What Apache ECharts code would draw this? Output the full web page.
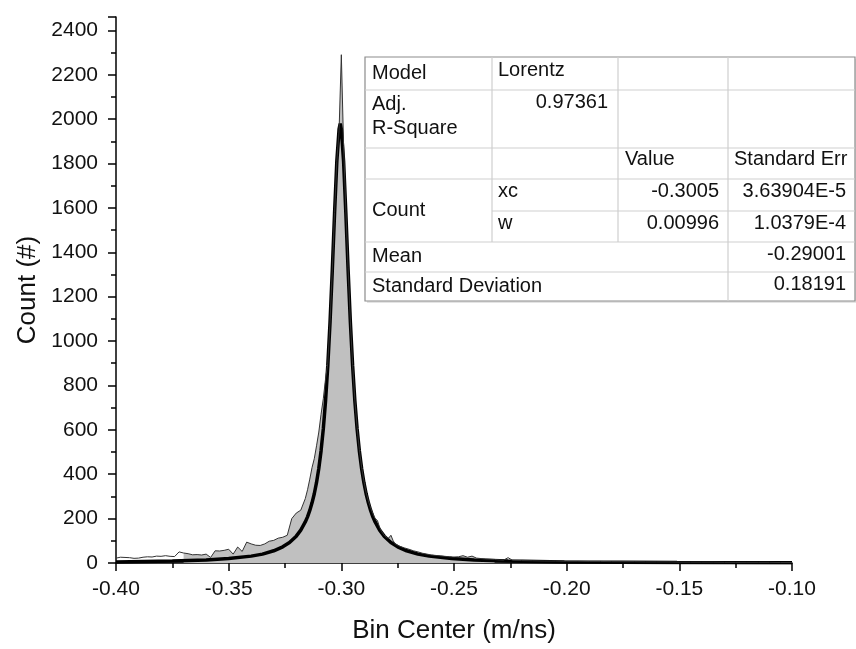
<!DOCTYPE html>
<html>
<head>
<meta charset="utf-8">
<script src="https://cdn.jsdelivr.net/npm/echarts@6/dist/echarts.min.js"></script>
<style>html,body{margin:0;padding:0;background:#fff}#c{width:856px;height:649px}</style>
</head>
<body>
<div id="c"></div>
<script>
// ---- histogram data (bin centre, count) ----
const binCenter = [
  -0.400,-0.398,-0.396,-0.394,-0.392,-0.390,-0.388,-0.386,-0.384,-0.382,
  -0.380,-0.378,-0.376,-0.374,-0.372,-0.370,-0.368,-0.366,-0.364,-0.362,
  -0.360,-0.358,-0.356,-0.354,-0.352,-0.350,-0.348,-0.346,-0.344,-0.342,
  -0.340,-0.338,-0.336,-0.334,-0.332,-0.330,-0.328,-0.326,-0.324,-0.322,
  -0.320,-0.318,-0.316,-0.315,-0.314,-0.313,-0.312,-0.311,-0.310,-0.309,
  -0.308,-0.307,-0.306,-0.305,-0.304,-0.303,-0.302,-0.301,-0.300,-0.299,
  -0.298,-0.297,-0.296,-0.295,-0.294,-0.293,-0.292,-0.291,-0.290,-0.289,
  -0.288,-0.287,-0.286,-0.285,-0.284,-0.283,-0.282,-0.281,-0.280,-0.279,
  -0.278,-0.277,-0.276,-0.274,-0.272,-0.270,-0.268,-0.266,-0.264,-0.262,
  -0.260,-0.258,-0.256,-0.254,-0.252,-0.250,-0.248,-0.246,-0.244,-0.242,
  -0.240,-0.238,-0.236,-0.234,-0.232,-0.230,-0.228,-0.226,-0.224,-0.220,
  -0.215,-0.210,-0.205,-0.200,-0.195,-0.190,-0.185,-0.180,-0.175,-0.170,
  -0.165,-0.160,-0.155,-0.150,-0.145,-0.140,-0.135,-0.130,-0.125,-0.120,
  -0.115,-0.110,-0.105,-0.100
];
const counts = [
  22,26,25,24,21,22,26,28,27,31,
  30,33,30,29,50,45,42,37,38,36,
  40,25,55,54,57,62,40,72,52,94,
  86,80,79,86,98,102,112,116,125,200,
  225,238,290,330,378,430,470,528,590,670,
  740,830,900,1090,1320,1580,1810,1950,2290,1880,
  1590,1330,1090,895,735,610,510,432,370,318,
  280,248,222,200,192,160,140,125,115,112,
  125,100,85,75,68,62,55,50,44,40,
  36,34,32,30,28,27,28,33,26,31,
  22,20,18,17,16,14,13,24,12,11,
  10,9,9,8,8,7,7,6,6,6,
  5,5,5,4,4,4,4,3,3,3,
  3,3,2,2
];
// ---- Lorentz fit curve values ----
const fitX = [
  -0.400,-0.375,-0.360,-0.350,-0.340,-0.335,-0.330,-0.326,-0.323,-0.320,
  -0.318,-0.316,-0.315,-0.314,-0.313,-0.312,-0.311,-0.310,-0.309,-0.308,
  -0.307,-0.306,-0.305,-0.304,-0.303,-0.302,-0.301,-0.3005,-0.300,-0.299,
  -0.298,-0.297,-0.296,-0.295,-0.294,-0.293,-0.292,-0.291,-0.290,-0.289,
  -0.288,-0.287,-0.286,-0.285,-0.283,-0.281,-0.278,-0.275,-0.271,-0.266,
  -0.261,-0.251,-0.241,-0.226,-0.201,-0.151,-0.100
];
const fitY = [
  4.9,8.8,13.8,19.8,31,40,55,73,92,121,
  148,185,208,237,271,312,363,426,505,604,
  730,890,1087,1322,1577,1810,1955,1980,1955,1810,
  1577,1322,1087,890,730,604,505,426,363,312,
  271,237,208,185,148,121,92,73,55,40,
  31,19.8,13.8,8.8,4.9,2.2,1.2
];
// shaded region of the histogram
const shadeRange = [-0.370, -0.232];

// ---- axis ticks ----
const xTicks = [-0.40,-0.35,-0.30,-0.25,-0.20,-0.15,-0.10];
const yTicks = [0,200,400,600,800,1000,1200,1400,1600,1800,2000,2200,2400];

// ---- fit result table text ----
const tblModel = ['Model', 'Lorentz'];
const tblAdjR = ['Adj.', 'R-Square', '0.97361'];
const tblHeader = ['Value', 'Standard Err'];
const tblGroup = 'Count';
const paramNames = ['xc', 'w'];
const paramValues = ['-0.3005', '0.00996'];
const paramErrors = ['3.63904E-5', '1.0379E-4'];
const statNames = ['Mean', 'Standard Deviation'];
const statValues = ['-0.29001', '0.18191'];

const FONT = '"Liberation Sans", Arial, sans-serif';
const histData = binCenter.map((x, i) => [x, counts[i]]);
const shadeData = histData.filter(d => d[0] >= shadeRange[0] - 1e-9 && d[0] <= shadeRange[1] + 1e-9);
const fitData = fitX.map((x, i) => [x, fitY[i]]);

// ---- table layout ----
const cx = [365, 492, 618, 728, 855];
const ry = [57, 90, 148, 179, 211, 242, 272, 301];
const g = [];
g.push({type:'rect', shape:{x:cx[0]+2, y:ry[0]+2, width:cx[4]-cx[0], height:ry[7]-ry[0]}, style:{fill:'#e4e4e4'}, z:100});
g.push({type:'rect', shape:{x:cx[0], y:ry[0], width:cx[4]-cx[0], height:ry[7]-ry[0]}, style:{fill:'#fff', stroke:'#8c8c8c', lineWidth:1.2}, z:101});
function hl(x1,x2,y){ g.push({type:'line', shape:{x1:x1,y1:y,x2:x2,y2:y}, style:{stroke:'#cfcfcf', lineWidth:1.2}, z:102}); }
function vl(x,y1,y2){ g.push({type:'line', shape:{x1:x,y1:y1,x2:x,y2:y2}, style:{stroke:'#cfcfcf', lineWidth:1.2}, z:102}); }
hl(cx[0],cx[4],ry[1]); hl(cx[0],cx[4],ry[2]); hl(cx[0],cx[4],ry[3]);
hl(cx[1],cx[4],ry[4]); hl(cx[0],cx[4],ry[5]); hl(cx[0],cx[4],ry[6]);
vl(cx[1],ry[0],ry[5]); vl(cx[2],ry[0],ry[5]); vl(cx[3],ry[0],ry[7]);
function tx(t,x,y,align){
  g.push({type:'text', z:103, style:{text:t, x:x, y:y, fill:'#111', font:'20px '+FONT,
    align:align||'left', textAlign:align||'left', verticalAlign:'middle', textVerticalAlign:'middle'}});
}
const L = 372, R2 = 719, R3 = 846;
tx(tblModel[0], L, 73); tx(tblModel[1], 498, 70);
tx(tblAdjR[0], L, 104.5); tx(tblAdjR[1], L, 128); tx(tblAdjR[2], 608, 102, 'right');
tx(tblHeader[0], 625, 159.5); tx(tblHeader[1], 734, 159.5);
tx(tblGroup, L, 210);
const pY = [191, 223];
paramNames.forEach((n,i)=>{ tx(n, 498, pY[i]); tx(paramValues[i], R2, pY[i], 'right'); tx(paramErrors[i], R3, pY[i], 'right'); });
const sY = [256, 286], sVY = [254, 284];
statNames.forEach((n,i)=>{ tx(n, L, sY[i]); tx(statValues[i], R3, sVY[i], 'right'); });

const chart = echarts.init(document.getElementById('c'));
chart.setOption({
  animation: false,
  backgroundColor: '#fff',
  grid: {left:116, right:64, top:17, bottom:85, containLabel:false},
  xAxis: {
    type:'value', min:xTicks[0], max:xTicks[xTicks.length-1], interval:0.05,
    name:'Bin Center (m/ns)', nameLocation:'middle', nameGap:55,
    nameTextStyle:{fontFamily:FONT, fontSize:26, color:'#111'},
    axisLine:{show:true, onZero:false, lineStyle:{color:'#000', width:1.5}},
    axisTick:{show:true, inside:false, length:8, lineStyle:{color:'#000', width:1.5}},
    minorTick:{show:true, splitNumber:2, length:5, lineStyle:{color:'#000', width:1.5}},
    splitLine:{show:false}, minorSplitLine:{show:false},
    axisLabel:{fontFamily:FONT, fontSize:21, color:'#111', margin:16,
      formatter: v => v.toFixed(2)}
  },
  yAxis: {
    type:'value', min:0, max:2460, interval:200,
    name:'Count (#)', nameLocation:'middle', nameGap:72, nameRotate:90,
    nameTextStyle:{fontFamily:FONT, fontSize:26, color:'#111'},
    axisLine:{show:true, lineStyle:{color:'#000', width:1.5}},
    axisTick:{show:true, inside:false, length:8, lineStyle:{color:'#000', width:1.5}},
    minorTick:{show:true, splitNumber:2, length:5, lineStyle:{color:'#000', width:1.5}},
    splitLine:{show:false}, minorSplitLine:{show:false},
    axisLabel:{fontFamily:FONT, fontSize:21, color:'#111', margin:18,
      formatter: v => (yTicks.indexOf(v) >= 0 ? String(v) : '')}
  },
  series: [
    {type:'line', data:shadeData, symbol:'none', lineStyle:{width:0, opacity:0},
      areaStyle:{color:'#c0c0c0', opacity:1}, z:1, silent:true},
    {type:'line', data:fitData, symbol:'none', lineStyle:{color:'#000', width:3.5}, z:2, silent:true},
    {type:'line', data:histData, symbol:'none', lineStyle:{color:'#333', width:1}, z:3, silent:true}
  ],
  graphic: g
});
</script>
</body>
</html>
